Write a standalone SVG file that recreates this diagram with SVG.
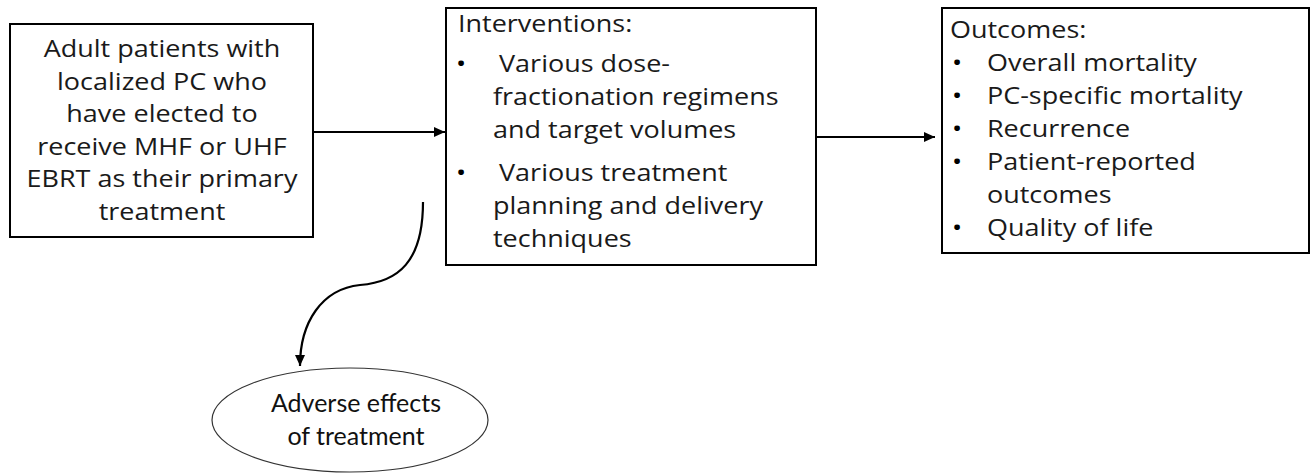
<svg xmlns="http://www.w3.org/2000/svg" width="1311" height="473" viewBox="0 0 1311 473">
<style>
.box{fill:#fff;stroke:#000;stroke-width:2}
.t{font-family:"Open Sans","DejaVu Sans",sans-serif;font-size:24px;fill:#1a1a1a}
.c{text-anchor:middle}
.b{font-family:"Open Sans","DejaVu Sans",sans-serif;font-size:24px;fill:#000;text-anchor:middle}
.e{font-family:Lato,"Open Sans",sans-serif;font-size:25px;fill:#111;text-anchor:middle}
.ln{fill:none;stroke:#000;stroke-width:2.2}
.ell{fill:#fff;stroke:#333;stroke-width:1.2}
</style>
<defs>
<marker id="ah" markerUnits="userSpaceOnUse" markerWidth="12" markerHeight="10" refX="11" refY="5" orient="auto">
<path d="M0,0 L11,5 L0,10 z" fill="#000"/>
</marker>
</defs>
<rect width="1311" height="473" fill="#fff"/>
<g id="connectors">
<path class="ln" d="M313,132 L445,132" marker-end="url(#ah)"/>
<path class="ln" d="M817,137 L935,137" marker-end="url(#ah)"/>
<path class="ln" d="M423,202 C423,262 398,282 360,285 C322,289 300,322 300,366" marker-end="url(#ah)"/>
</g>
<g id="population">
<rect class="box" x="10" y="24" width="303" height="213"/>
<g transform="matrix(1.125,0,0,1,0,0)">
<text class="t c" x="144" y="57">Adult patients with</text>
<text class="t c" x="144" y="89.6">localized PC who</text>
<text class="t c" x="144" y="122">have elected to</text>
<text class="t c" x="144" y="154.8">receive MHF or UHF</text>
<text class="t c" x="144" y="187.4">EBRT as their primary</text>
<text class="t c" x="144" y="220">treatment</text>
</g>
</g>
<g id="interventions">
<rect class="box" x="446" y="8" width="370" height="257"/>
<g transform="matrix(1.125,0,0,1,0,0)">
<text class="t" x="407.1" y="32">Interventions:</text>
<text class="b" x="409.8" y="72">•</text>
<text class="t" x="443.6" y="72">Various dose-</text>
<text class="t" x="438.2" y="105">fractionation regimens</text>
<text class="t" x="438.2" y="138">and target volumes</text>
<text class="b" x="409.8" y="181">•</text>
<text class="t" x="443.6" y="181">Various treatment</text>
<text class="t" x="438.2" y="214">planning and delivery</text>
<text class="t" x="438.2" y="247">techniques</text>
</g>
</g>
<g id="outcomes">
<rect class="box" x="942" y="8" width="367" height="245"/>
<g transform="matrix(1.125,0,0,1,0,0)">
<text class="t" x="844.4" y="38">Outcomes:</text>
<text class="b" x="850.7" y="71">•</text>
<text class="t" x="877.3" y="71">Overall mortality</text>
<text class="b" x="850.7" y="104">•</text>
<text class="t" x="877.3" y="104">PC-specific mortality</text>
<text class="b" x="850.7" y="137">•</text>
<text class="t" x="877.3" y="137">Recurrence</text>
<text class="b" x="850.7" y="170">•</text>
<text class="t" x="877.3" y="170">Patient-reported</text>
<text class="t" x="877.3" y="203">outcomes</text>
<text class="b" x="850.7" y="236">•</text>
<text class="t" x="877.3" y="236">Quality of life</text>
</g>
</g>
<g id="adverse">
<ellipse class="ell" cx="350" cy="420" rx="138" ry="52"/>
<text class="e" x="356" y="412">Adverse effects</text>
<text class="e" x="356" y="445">of treatment</text>
</g>
</svg>
